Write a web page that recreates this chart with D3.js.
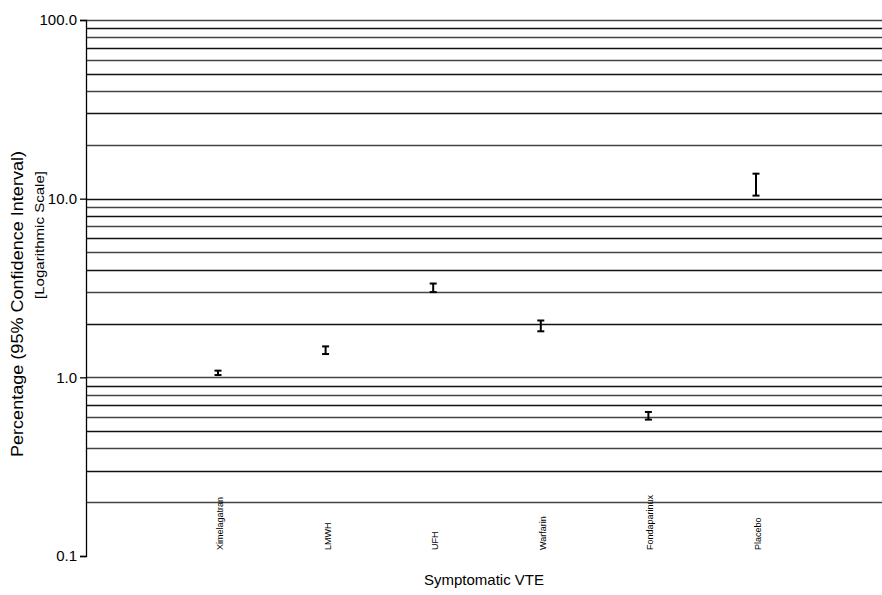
<!DOCTYPE html>
<html>
<head>
<meta charset="utf-8">
<script src="https://cdn.jsdelivr.net/npm/d3@7"></script>
<style>
body { margin: 0; background: #fff; }
svg { font-family: "Liberation Sans", Arial, sans-serif; }
</style>
</head>
<body>
<svg width="882" height="595"></svg>
<script>
var categories = ["Ximelagatran", "LMWH", "UFH", "Warfarin", "Fondaparinux", "Placebo"];
var lower = [1.03, 1.35, 3.0, 1.81, 0.58, 10.4];
var upper = [1.09, 1.49, 3.35, 2.08, 0.64, 13.8];
var yTicks = [0.1, 1, 10, 100];

var svg = d3.select("svg");
var plotLeft = 86, plotRight = 882, plotTop = 20, plotBottom = 556;

var x = d3.scalePoint().domain(categories).range([218, 756]);
var y = d3.scaleLog().domain([0.1, 100]).range([plotBottom, plotTop]);

// grid lines at every 1..9 multiple of each decade (none on the 0.1 baseline)
var grid = [];
[0.1, 1, 10].forEach(function(d) {
    for (var k = 1; k <= 9; k++) grid.push(d * k);
});
grid.push(100);
grid = grid.slice(1);

svg.append("g").selectAll("line")
    .data(grid)
    .enter().append("line")
    .attr("x1", plotLeft)
    .attr("x2", plotRight)
    .attr("y1", function(d) { return Math.round(y(d)) + 0.5; })
    .attr("y2", function(d) { return Math.round(y(d)) + 0.5; })
    .attr("stroke", function(d, i) { return (i % 2) ? "#111" : "#444"; })
    .attr("stroke-width", 1.3);

var yAxis = svg.append("g")
    .attr("transform", "translate(" + plotLeft + ",0)")
    .call(d3.axisLeft(y).tickValues(yTicks).tickFormat(d3.format(".1f")).tickSize(6).tickPadding(3));
yAxis.selectAll("text").attr("font-size", 15).attr("fill", "#000").attr("font-family", "Liberation Sans, Arial, sans-serif");
yAxis.selectAll("line, path").attr("stroke", "#000").attr("stroke-width", 1.3);

// error bars
var bars = svg.append("g").selectAll("g")
    .data(categories)
    .enter().append("g");

bars.append("line")
    .attr("x1", function(d) { return x(d); })
    .attr("x2", function(d) { return x(d); })
    .attr("y1", function(d, i) { return y(lower[i]); })
    .attr("y2", function(d, i) { return y(upper[i]); })
    .attr("stroke", "#000").attr("stroke-width", 2);

bars.append("line")
    .attr("x1", function(d) { return x(d) - 3.5; })
    .attr("x2", function(d) { return x(d) + 3.5; })
    .attr("y1", function(d, i) { return y(lower[i]); })
    .attr("y2", function(d, i) { return y(lower[i]); })
    .attr("stroke", "#000").attr("stroke-width", 2);

bars.append("line")
    .attr("x1", function(d) { return x(d) - 3.5; })
    .attr("x2", function(d) { return x(d) + 3.5; })
    .attr("y1", function(d, i) { return y(upper[i]); })
    .attr("y2", function(d, i) { return y(upper[i]); })
    .attr("stroke", "#000").attr("stroke-width", 2);

// category labels
svg.append("g").selectAll("text")
    .data(categories)
    .enter().append("text")
    .attr("transform", function(d) { return "translate(" + (x(d) + 5) + ",550) rotate(-90)"; })
    .attr("font-size", 9)
    .attr("text-anchor", "start")
    .text(function(d) { return d; });

svg.append("text")
    .attr("x", 484)
    .attr("y", 585)
    .attr("text-anchor", "middle")
    .attr("font-size", 15)
    .text("Symptomatic VTE");

svg.append("text")
    .attr("transform", "translate(23,304) rotate(-90)")
    .attr("text-anchor", "middle")
    .attr("font-size", 16)
    .attr("textLength", 306)
    .attr("lengthAdjust", "spacingAndGlyphs")
    .text("Percentage (95% Confidence Interval)");

svg.append("text")
    .attr("transform", "translate(44,235) rotate(-90)")
    .attr("text-anchor", "middle")
    .attr("font-size", 12.5)
    .attr("textLength", 128)
    .attr("lengthAdjust", "spacingAndGlyphs")
    .text("[Logarithmic Scale]");
</script>
</body>
</html>
